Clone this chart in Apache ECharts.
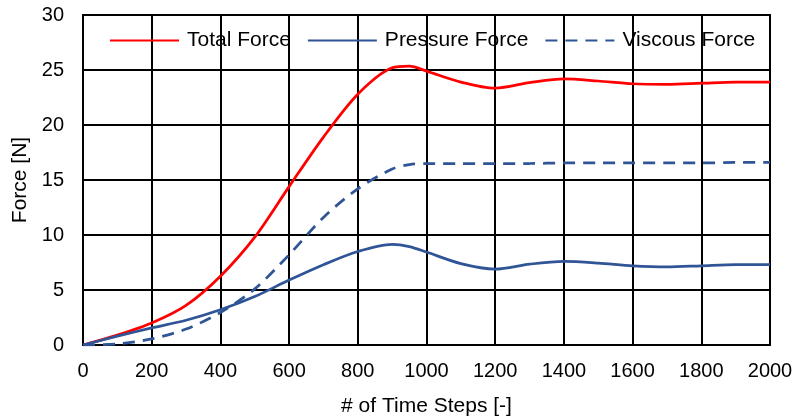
<!DOCTYPE html>
<html>
<head>
<meta charset="utf-8">
<script src="https://cdn.jsdelivr.net/npm/echarts@6/dist/echarts.min.js"></script>
<style>
html,body{margin:0;padding:0;background:#fff;}
#chart{width:795px;height:416px;}
</style>
</head>
<body>
<div id="chart"></div>
<script>
const steps = [0,100,200,300,400,500,600,700,800,900,950,1000,1100,1200,1300,1400,1500,1600,1700,1800,1900,2000];
const totalForce = [0,0.9,2.0,3.6,6.25,9.8,14.4,18.9,22.8,25.2,25.35,24.9,23.9,23.35,23.85,24.2,24.0,23.75,23.7,23.8,23.9,23.9];
const pressureForce = [0,0.8,1.55,2.25,3.2,4.4,5.9,7.3,8.5,9.15,8.95,8.45,7.4,6.9,7.35,7.6,7.45,7.2,7.1,7.2,7.3,7.3];
const viscousForce = [0,0.1,0.55,1.45,2.95,5.1,8.2,11.6,14.2,16.0,16.4,16.5,16.5,16.5,16.5,16.55,16.55,16.55,16.55,16.55,16.6,16.6];
const seriesNames = ['Total Force','Pressure Force','Viscous Force'];
const xTitle = '# of Time Steps [-]';
const yTitle = 'Force [N]';

const pairs = arr => steps.map((s,i)=>[s,arr[i]]);
const FONT = 'Liberation Sans, Arial, sans-serif';
const chart = echarts.init(document.getElementById('chart'));
chart.setOption({
  animation:false,
  backgroundColor:'#fff',
  grid:{left:83,right:25,top:15,bottom:71,show:true,borderColor:'#000',borderWidth:2,backgroundColor:'transparent',
        containLabel:false, outerBoundsMode:'none'},
  legend:{
    data:seriesNames, left:109, top:30, padding:0, itemWidth:69, itemHeight:14, itemGap:16,
    itemStyle:{opacity:0},
    textStyle:{fontFamily:FONT,fontSize:21,color:'#000',padding:[0,0,0,3]}
  },
  xAxis:{
    type:'value', min:0, max:2000, interval:200,
    name:xTitle, nameLocation:'middle', nameGap:51,
    nameTextStyle:{fontFamily:FONT,fontSize:21,color:'#000'},
    axisLine:{show:true,lineStyle:{color:'#000',width:2}},
    axisTick:{show:false},
    axisLabel:{fontFamily:FONT,fontSize:20,color:'#000',margin:16,formatter:v=>String(v)},
    splitLine:{show:true,lineStyle:{color:'#000',width:2}}
  },
  yAxis:{
    type:'value', min:0, max:30, interval:5,
    name:yTitle, nameLocation:'middle', nameGap:50,
    nameTextStyle:{fontFamily:FONT,fontSize:21,color:'#000'},
    axisLine:{show:true,lineStyle:{color:'#000',width:2}},
    axisTick:{show:false},
    axisLabel:{fontFamily:FONT,fontSize:20,color:'#000',margin:19,formatter:v=>String(v)},
    splitLine:{show:true,lineStyle:{color:'#000',width:2}}
  },
  series:[
    {name:seriesNames[0],type:'line',data:pairs(totalForce),smooth:0.3,symbol:'none',
     lineStyle:{color:'#FF0000',width:2.75},itemStyle:{color:'#FF0000'}},
    {name:seriesNames[1],type:'line',data:pairs(pressureForce),smooth:0.3,symbol:'none',
     lineStyle:{color:'#2F5597',width:2.75},itemStyle:{color:'#2F5597'}},
    {name:seriesNames[2],type:'line',data:pairs(viscousForce),smooth:0.3,symbol:'none',
     lineStyle:{color:'#2F5597',width:2.75,type:[12,8]},itemStyle:{color:'#2F5597'}}
  ]
});
</script>
</body>
</html>
